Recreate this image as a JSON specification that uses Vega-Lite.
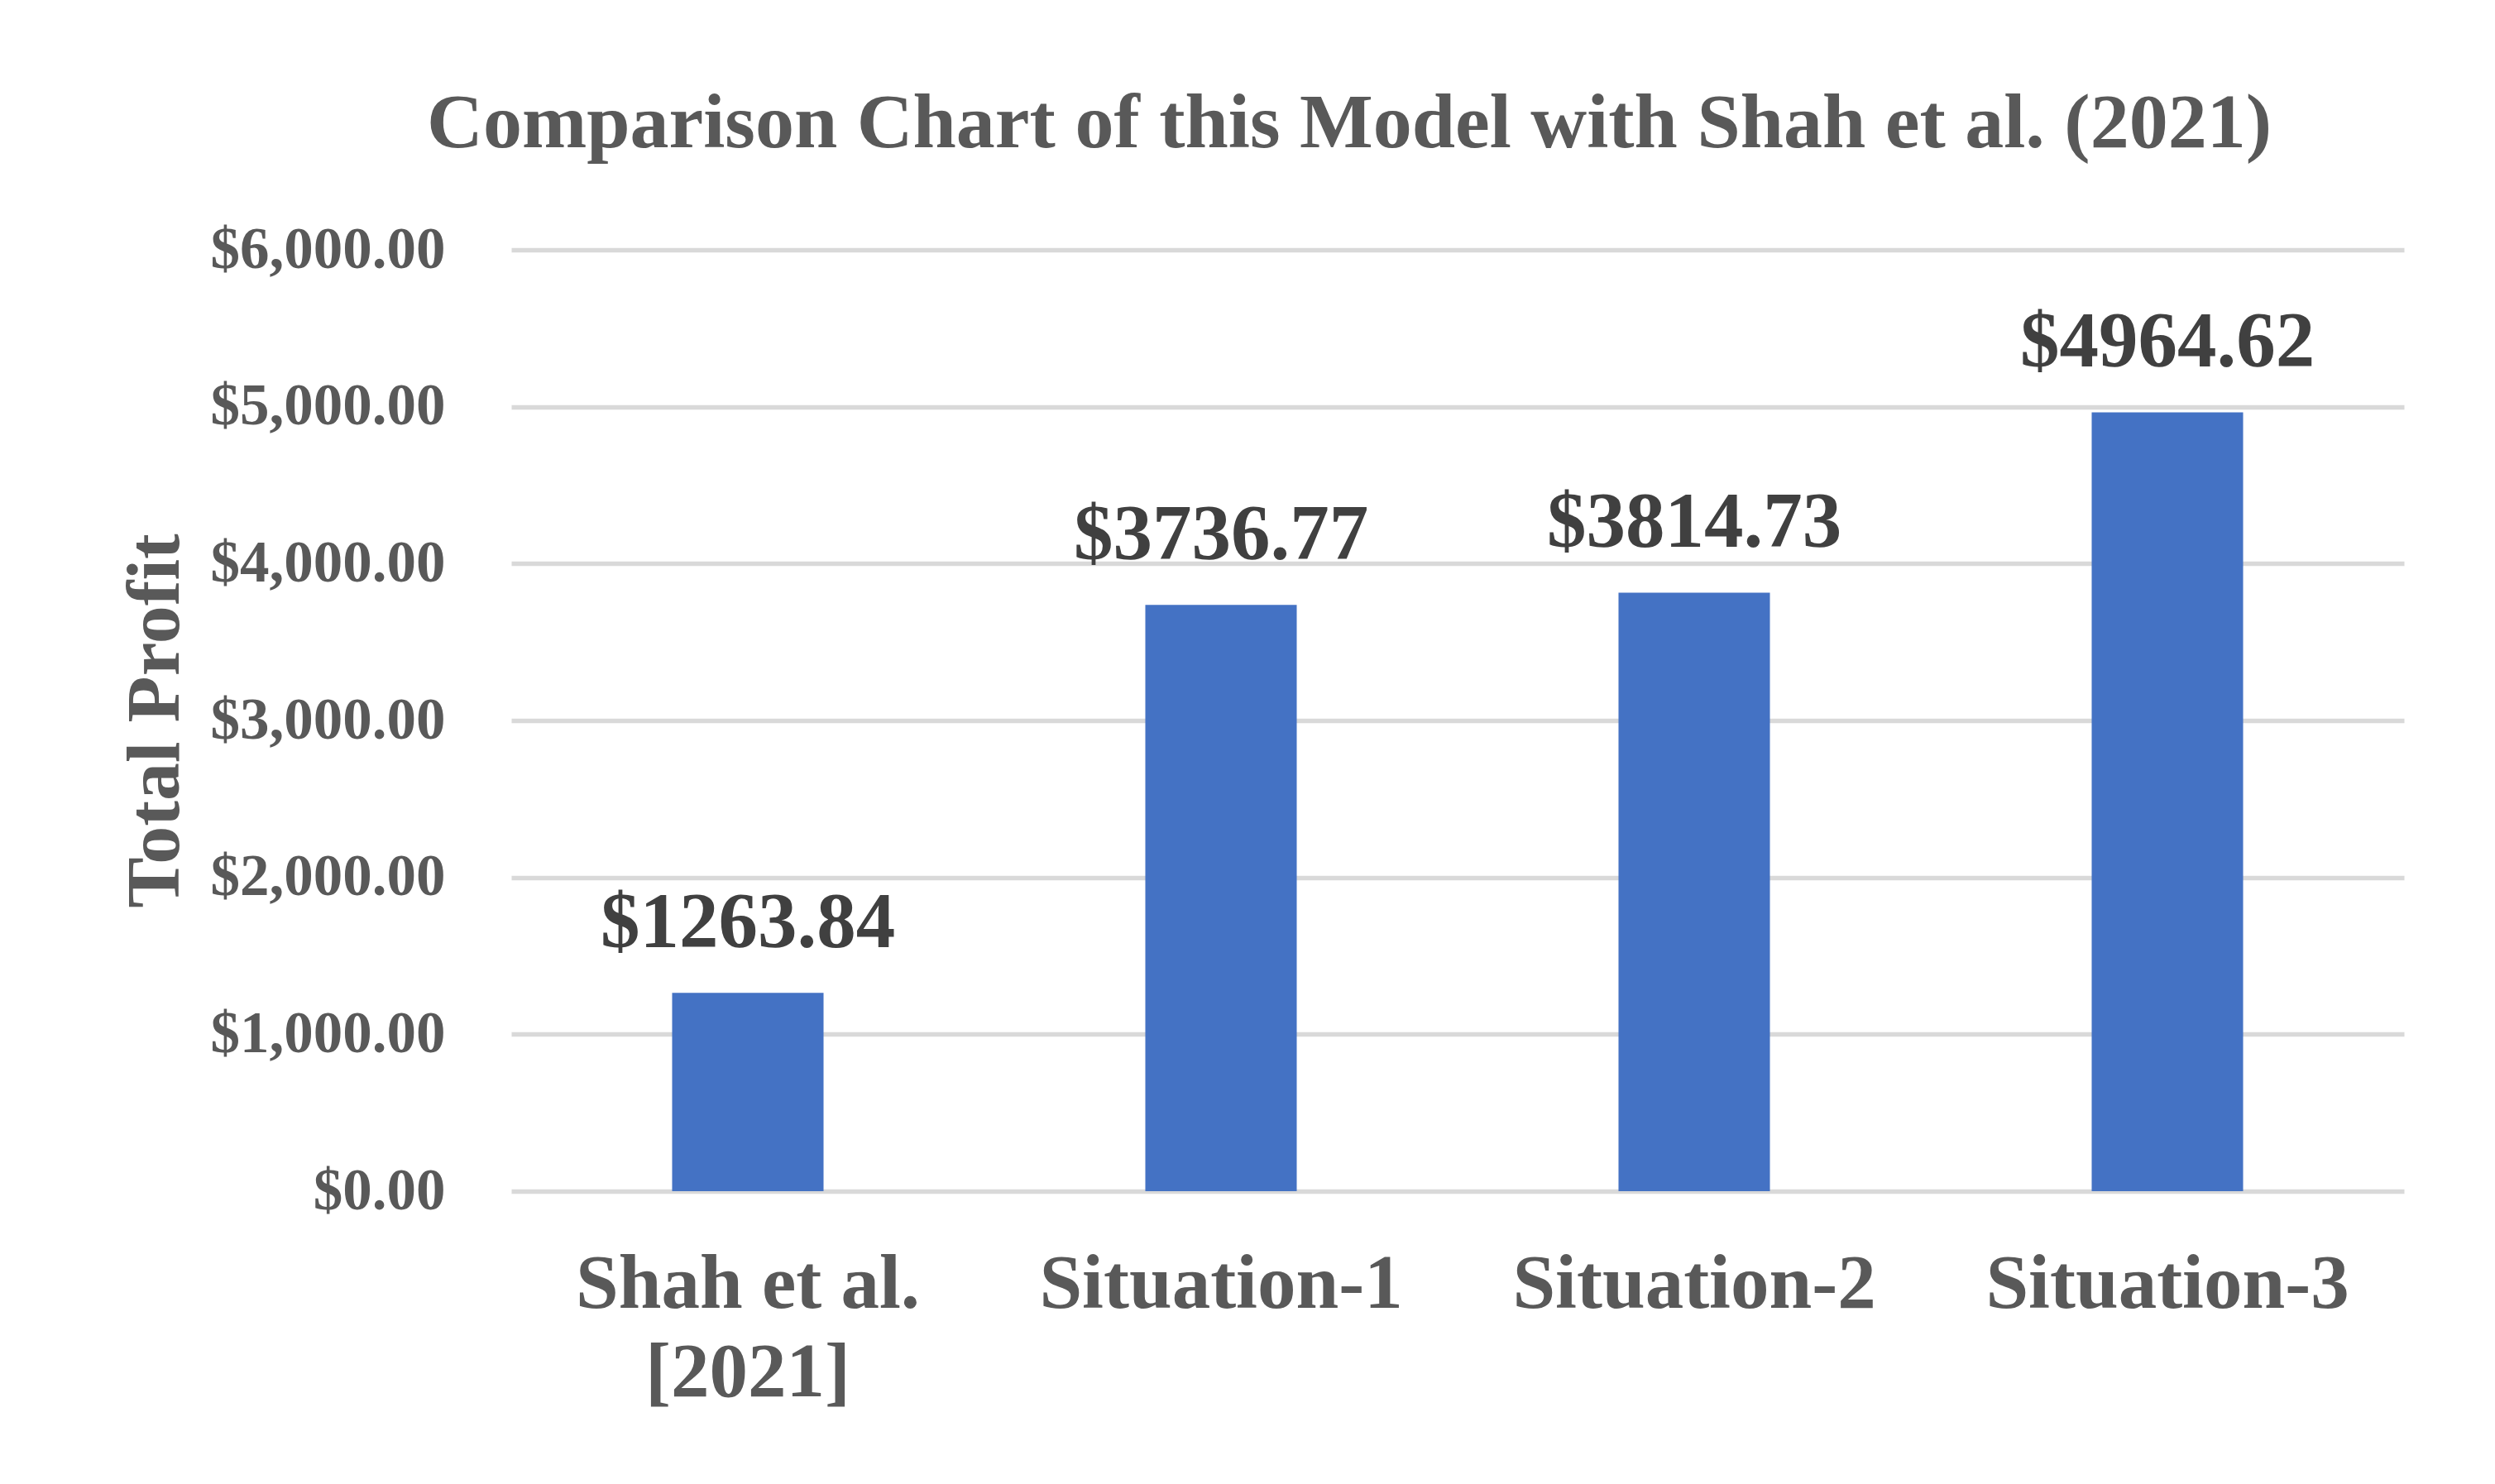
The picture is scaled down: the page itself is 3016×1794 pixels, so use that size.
{
  "$schema": "https://vega.github.io/schema/vega-lite/v6.json",
  "autosize": {"type": "none"},
  "width": 2288,
  "height": 1138,
  "padding": {"left": 618, "top": 302, "right": 110, "bottom": 354},
  "background": "white",
  "title": {
    "text": "Comparison Chart of this Model with Shah et al. (2021)",
    "font": "Liberation Serif",
    "fontSize": 94,
    "fontWeight": "bold",
    "color": "#595959",
    "anchor": "middle",
    "frame": "group",
    "baseline": "alphabetic",
    "offset": -6,
    "dx": -131
  },
  "data": {
    "values": [
      {"model": "Shah et al. [2021]", "profit": 1263.84},
      {"model": "Situation-1", "profit": 3736.77},
      {"model": "Situation-2", "profit": 3814.73},
      {"model": "Situation-3", "profit": 4964.62}
    ]
  },
  "encoding": {
    "x": {
      "field": "model",
      "type": "nominal",
      "sort": null,
      "scale": {"paddingInner": 0.68, "paddingOuter": 0.34},
      "axis": {
        "title": null,
        "domain": false,
        "ticks": false,
        "labelAngle": 0,
        "labelFont": "Liberation Serif",
        "labelFontSize": 93,
        "labelFontWeight": "bold",
        "labelColor": "#595959",
        "labelPadding": 67,
        "labelLineHeight": 107,
        "labelLimit": 2000,
        "labelOverlap": false,
        "labelBaseline": "top",
        "labelExpr": "datum.value == 'Shah et al. [2021]' ? ['Shah et al.', '[2021]'] : datum.label"
      }
    },
    "y": {
      "field": "profit",
      "type": "quantitative",
      "scale": {"domain": [0, 6000], "nice": false},
      "axis": {
        "title": "Total Profit",
        "values": [0, 1000, 2000, 3000, 4000, 5000, 6000],
        "format": "$,.2f",
        "domain": false,
        "ticks": false,
        "grid": true,
        "gridColor": "#D9D9D9",
        "gridWidth": 5.5,
        "labelFont": "Liberation Serif",
        "labelFontSize": 71,
        "labelFontWeight": "bold",
        "labelColor": "#595959",
        "labelPadding": 80,
        "labelLimit": 2000,
        "titleFont": "Liberation Serif",
        "titleFontSize": 92,
        "titleFontWeight": "bold",
        "titleColor": "#595959",
        "titleAngle": -90,
        "titleAlign": "center",
        "titleBaseline": "alphabetic",
        "titleX": -403,
        "titleY": 569
      }
    }
  },
  "layer": [
    {"mark": {"type": "bar", "color": "#4472C4"}},
    {
      "mark": {
        "type": "text",
        "font": "Liberation Serif",
        "fontSize": 95,
        "fontWeight": "bold",
        "color": "#404040",
        "baseline": "alphabetic",
        "align": "center",
        "dy": -55
      },
      "encoding": {
        "text": {"field": "profit", "type": "quantitative", "format": "$.2f"}
      }
    }
  ],
  "config": {
    "view": {"stroke": null}
  }
}
